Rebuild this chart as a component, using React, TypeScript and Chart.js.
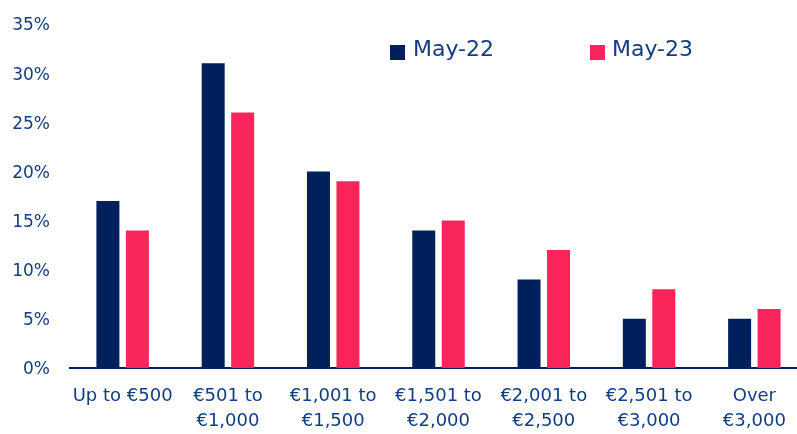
import React, { useEffect, useRef } from "react";
import { Chart, registerables } from "chart.js";

Chart.register(...registerables);

const categories: string[][] = [
  ["Up to €500"],
  ["€501 to", "€1,000"],
  ["€1,001 to", "€1,500"],
  ["€1,501 to", "€2,000"],
  ["€2,001 to", "€2,500"],
  ["€2,501 to", "€3,000"],
  ["Over", "€3,000"],
];
const seriesNames = ["May-22", "May-23"];
const may22 = [17, 31, 20, 14, 9, 5, 5];
const may23 = [14, 26, 19, 15, 12, 8, 6];
const yTicks = [0, 5, 10, 15, 20, 25, 30, 35];

const NAVY = "#00205b";
const PINK = "#f8245a";
const TEXT = "#123d84";
const FONT = "'DejaVu Sans', sans-serif";

const legendPlugin = {
  id: "customLegend",
  afterDraw(chart: any) {
    const ctx = chart.ctx;
    const items = [
      { box: 390, text: 413 },
      { box: 590, text: 612 },
    ];
    ctx.save();
    chart.data.datasets.forEach((ds: any, i: number) => {
      const p = items[i];
      ctx.fillStyle = ds.backgroundColor;
      ctx.fillRect(p.box, 45, 15, 15);
      ctx.fillStyle = TEXT;
      ctx.font = `22px ${FONT}`;
      ctx.textBaseline = "alphabetic";
      ctx.textAlign = "left";
      ctx.fillText(ds.label, p.text, 55.5);
    });
    ctx.restore();
  },
};

export default function App() {
  const ref = useRef<HTMLCanvasElement>(null);
  useEffect(() => {
    if (!ref.current) return;
    const chart = new Chart(ref.current, {
      type: "bar",
      data: {
        labels: categories,
        datasets: [
          { label: seriesNames[0], data: may22, backgroundColor: NAVY },
          { label: seriesNames[1], data: may23, backgroundColor: PINK },
        ],
      },
      options: {
        responsive: false,
        animation: false,
        devicePixelRatio: 1,
        layout: { padding: { top: 24, left: 0, right: 0, bottom: 0 } },
        datasets: {
          bar: { categoryPercentage: 0.56, barPercentage: 0.78 },
        },
        plugins: {
          legend: { display: false },
          tooltip: { enabled: false },
        },
        scales: {
          x: {
            grid: { display: false },
            border: { display: true, color: NAVY, width: 2 },
            ticks: {
              color: TEXT,
              font: { family: FONT, size: 18, lineHeight: 1.38 },
              padding: 8,
              maxRotation: 0,
              autoSkip: false,
            },
            afterFit: (s: any) => {
              s.height = 66;
            },
          },
          y: {
            min: 0,
            max: 35,
            grid: { display: false },
            border: { display: false },
            afterBuildTicks: (s: any) => {
              s.ticks = yTicks.map((v) => ({ value: v }));
            },
            ticks: {
              color: TEXT,
              font: { family: FONT, size: 17 },
              padding: 12,
              labelOffset: 2,
              callback: (v: any) => `${v}%`,
            },
            afterFit: (s: any) => {
              s.width = 70;
            },
          },
        },
      },
      plugins: [legendPlugin],
    });
    return () => chart.destroy();
  }, []);
  return (
    <div
      style={{
        position: "fixed",
        left: 0,
        top: 0,
        width: 797,
        height: 434,
        overflow: "hidden",
        background: "#fff",
      }}
    >
      <canvas ref={ref} width={807} height={434} style={{ display: "block" }} />
    </div>
  );
}
